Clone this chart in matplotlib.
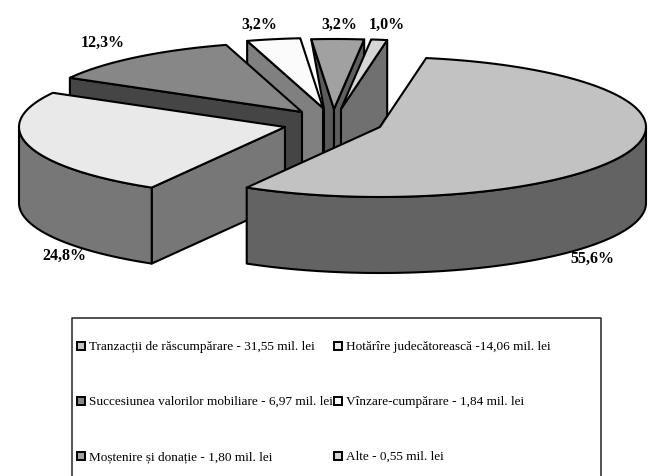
import numpy as np
import matplotlib
matplotlib.use("Agg")
import matplotlib.pyplot as plt
from matplotlib.patches import Polygon, Rectangle

plt.rcParams['font.family'] = ['Liberation Serif', 'DejaVu Serif']

# values in mil. lei, clockwise from the big slice
names = ["Tranzacții de răscumpărare - 31,55 mil. lei",
         "Hotărîre judecătorească -14,06 mil. lei",
         "Succesiunea valorilor mobiliare - 6,97 mil. lei",
         "Vînzare-cumpărare - 1,84 mil. lei",
         "Moștenire și donație - 1,80 mil. lei",
         "Alte - 0,55 mil. lei"]
values = [31.55, 14.06, 6.97, 1.84, 1.80, 0.55]
pct_labels = ["55,6%", "24,8%", "12,3%", "3,2%", "3,2%", "1,0%"]

# look of each slice
apex = [(380, 128), (285, 128), (302, 113), (323, 109), (334, 110), (341, 110)]
top_col = ["#c2c2c2", "#e9e9e9", "#878787", "#fbfbfb", "#a1a1a1", "#d6d6d6"]
wall_col = ["#636363", "#777777", "#454545", "#808080", "#5a5a5a", "#707070"]
label_pos = [(592, 259), (64, 256), (103, 43), (259, 25), (339, 25), (387, 25)]

A, B, DEPTH = 266, 70, 76
START = 10.0

fig = plt.figure(figsize=(6.52, 4.77), dpi=100)
ax = fig.add_axes([0, 0, 1, 1])
ax.set_xlim(0, 652)
ax.set_ylim(477, 0)
ax.axis("off")

sweep = np.array(values) / sum(values) * 360
starts = START + np.concatenate([[0], np.cumsum(sweep)[:-1]])


def rim(i, t):
    t = np.radians(t)
    return apex[i][0] + A * np.sin(t), apex[i][1] - B * np.cos(t)


def face(pts, col, z):
    ax.add_patch(Polygon(pts, closed=True, fc=col, ec="black", lw=1.5, joinstyle="round", zorder=z))


def radial(i, t, z, col=None):
    x, y = rim(i, t)
    ax_, ay = apex[i]
    face([(x, y), (ax_, ay), (ax_, ay + DEPTH), (x, y + DEPTH)], col or wall_col[i], z)


def outer_wall(i, t0, t1, z):
    t = np.linspace(t0, t1, 80)
    x, y = rim(i, t)
    pts = list(zip(x, y)) + list(zip(x[::-1], y[::-1] + DEPTH))
    face(pts, wall_col[i], z)


def top(i, z):
    t = np.linspace(starts[i], starts[i] + sweep[i], 120)
    x, y = rim(i, t)
    face([apex[i]] + list(zip(x, y)), top_col[i], z)


# back to front: mostenire, alte, vinzare, succesiune, hotarire, tranzactii
# mostenire left face narrows behind the white slice
x4, y4 = rim(4, starts[4])
face([(x4, y4), apex[4], (apex[4][0], apex[4][1] + DEPTH), (324, apex[4][1] + DEPTH), (324, 110)], wall_col[4], 1)
radial(4, starts[4] + sweep[4], 2, "#5f5f5f")
top(4, 3)

radial(5, starts[5] + sweep[5], 4)
top(5, 5)

radial(3, starts[3], 6)
top(3, 7)

radial(2, starts[2], 8)
top(2, 9)

radial(1, starts[1], 10)
outer_wall(1, starts[1], 270, 11)
top(1, 12)

outer_wall(0, 90, starts[0] + sweep[0], 13)
top(0, 14)

for lab, (lx, ly) in zip(pct_labels, label_pos):
    ax.text(lx, ly, lab, ha="center", va="center", fontsize=11.5, fontweight="bold", zorder=20)

# legend box, open at the bottom
ax.plot([72, 72, 601, 601], [477, 319, 319, 477], color="#222222", lw=1.1, zorder=20)
rows = [347, 402, 457]
cols = [77, 334]
k = 0
for ry in rows:
    for cx in cols:
        ax.add_patch(Rectangle((cx, ry - 4), 8, 8, fc=top_col[k], ec="black", lw=1.4, zorder=20))
        ax.text(cx + 12, ry, names[k], ha="left", va="center", fontsize=9.5, zorder=20)
        k += 1

fig.savefig("out.png", dpi=100)
